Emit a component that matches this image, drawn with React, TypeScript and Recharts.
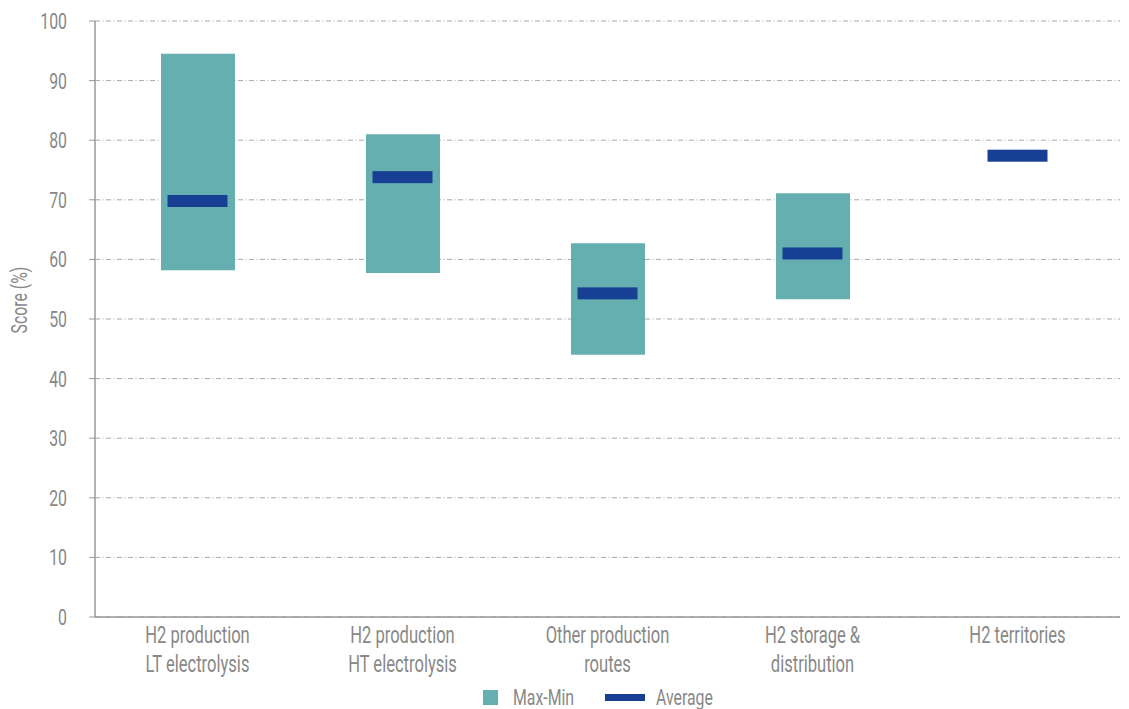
import { ComposedChart, Bar, Scatter, XAxis, YAxis, CartesianGrid, Legend } from "recharts";

const categories = [
  "H2 production\nLT electrolysis",
  "H2 production\nHT electrolysis",
  "Other production\nroutes",
  "H2 storage &\ndistribution",
  "H2 territories",
];
const minScores = [58.2, 57.7, 44.0, 53.3, null];
const maxScores = [94.5, 81.0, 62.7, 71.1, null];
const avgScores = [69.8, 73.8, 54.3, 61.0, 77.4];
const yTicks = [0, 10, 20, 30, 40, 50, 60, 70, 80, 90, 100];

const TEAL = "#66afb0";
const BLUE = "#174094";
const GREY_TEXT = "#888888";
const FONT = "Roboto, 'Liberation Sans', sans-serif";
// the original uses a condensed face; squeeze Roboto horizontally
const SQUEEZE = 0.72;

const data = categories.map((name, i) => ({
  name,
  range: minScores[i] == null ? null : [minScores[i], maxScores[i]],
  avg: avgScores[i],
}));

function CategoryTick({ x, y, payload }: any) {
  const lines = String(payload.value).split("\n");
  return (
    <g transform={`translate(${x},${y}) scale(${SQUEEZE},1)`}>
      <text x={0} y={0} textAnchor="middle" fill={GREY_TEXT} fontSize={23} fontFamily={FONT}>
        {lines.map((l, i) => (
          <tspan key={i} x={0} dy={i === 0 ? 18 : 29}>
            {l}
          </tspan>
        ))}
      </text>
    </g>
  );
}

function ScoreTick({ x, y, payload }: any) {
  return (
    <g transform={`translate(${x},${y}) scale(${SQUEEZE},1)`}>
      <text x={0} y={0} dy="0.36em" textAnchor="end" fill={GREY_TEXT} fontSize={22} fontFamily={FONT}>
        {payload.value}
      </text>
    </g>
  );
}

function ScoreLabel({ viewBox }: any) {
  const cy = viewBox.y + viewBox.height / 2 - 19;
  return (
    <g transform={`translate(19,${cy}) rotate(-90) scale(${SQUEEZE},1)`}>
      <text x={0} y={0} dy="0.36em" textAnchor="middle" fill={GREY_TEXT} fontSize={22} fontFamily={FONT}>
        Score (%)
      </text>
    </g>
  );
}

function AvgMark({ cx, cy }: any) {
  if (cx == null || cy == null) return null;
  return <rect x={cx - 30} y={cy - 6} width={60} height={12} fill={BLUE} />;
}

function Squeezed({ text, width }: { text: string; width: number }) {
  return (
    <span style={{ display: "inline-block", width, whiteSpace: "nowrap" }}>
      <span style={{ display: "inline-block", transform: `scaleX(${SQUEEZE})`, transformOrigin: "left center" }}>
        {text}
      </span>
    </span>
  );
}

function LegendContent() {
  return (
    <div
      style={{
        display: "flex",
        justifyContent: "center",
        alignItems: "center",
        fontFamily: FONT,
        fontSize: 22,
        color: GREY_TEXT,
        paddingLeft: 75,
        paddingTop: 8,
        height: 24,
      }}
    >
      <span style={{ width: 15, height: 15, background: TEAL, display: "inline-block", marginRight: 15 }} />
      <Squeezed text="Max-Min" width={62} />
      <span style={{ width: 40, height: 7, background: BLUE, display: "inline-block", marginLeft: 30, marginRight: 11 }} />
      <Squeezed text="Average" width={56} />
    </div>
  );
}

export default function App() {
  return (
    <div style={{ position: "absolute", left: 0, top: 0, background: "#fff" }}>
      <ComposedChart width={1129} height={709} data={data} margin={{ top: 21, right: 9, left: 0, bottom: 0 }}>
        <CartesianGrid vertical={false} stroke="#a8a8a8" strokeDasharray="5 2.5 1 2.5" />
        <XAxis
          xAxisId="marks"
          type="number"
          domain={[0, 3.927]}
          ticks={[0, 1, 2, 3]}
          height={0}
          axisLine={false}
          tickLine={{ stroke: "#999" }}
          tickSize={4}
          tickFormatter={() => ""}
          allowDataOverflow
        />
        <XAxis
          dataKey="name"
          interval={0}
          height={60}
          tickLine={false}
          axisLine={{ stroke: "#999", strokeWidth: 1.5 }}
          tick={<CategoryTick />}
        />
        <YAxis
          domain={[0, 100]}
          ticks={yTicks}
          width={95}
          tickSize={6}
          tickMargin={22}
          axisLine={{ stroke: "#999", strokeWidth: 1.5 }}
          tickLine={{ stroke: "#999" }}
          tick={<ScoreTick />}
          label={<ScoreLabel />}
        />
        <Legend verticalAlign="bottom" height={32} content={<LegendContent />} />
        <Bar dataKey="range" name="Max-Min" fill={TEAL} barSize={74} isAnimationActive={false} />
        <Scatter dataKey="avg" name="Average" fill={BLUE} shape={<AvgMark />} isAnimationActive={false} />
      </ComposedChart>
    </div>
  );
}
